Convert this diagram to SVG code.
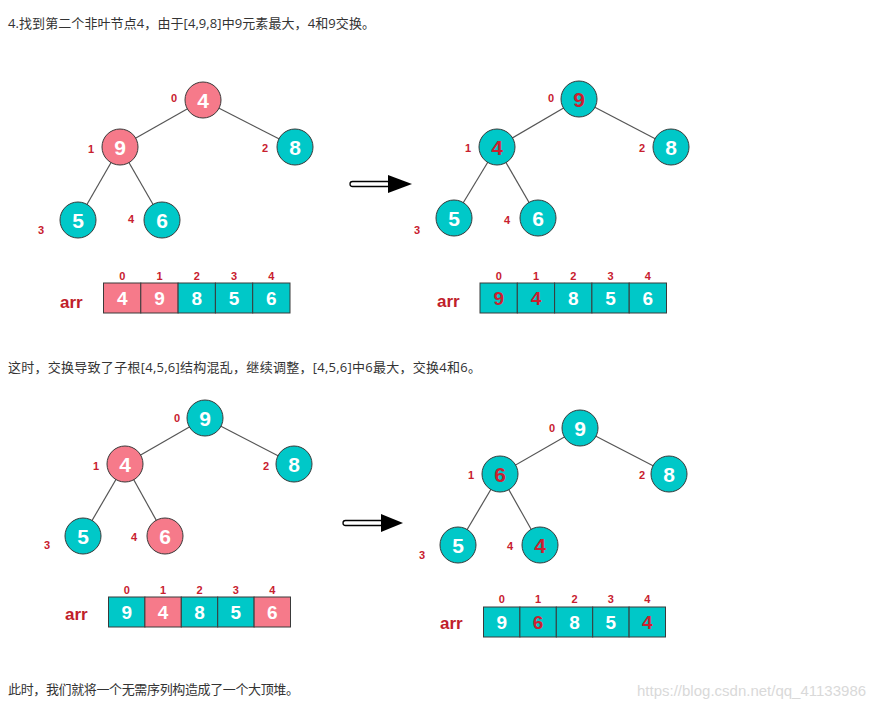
<svg xmlns="http://www.w3.org/2000/svg" width="889" height="709" viewBox="0 0 889 709">
<style>
.bg{fill:#ffffff}
.txt{font-family:"Open Sans","Noto Sans CJK SC",sans-serif;font-size:13px;fill:#333333}
.wm{font-family:"Liberation Sans",sans-serif;font-size:15px;fill:#d9d9d9}
.edge{stroke:#555555;stroke-width:1.2;fill:none}
.pink{fill:#f67a8a;stroke:#3a3a3a;stroke-width:1}
.teal{fill:#00c8c8;stroke:#3a3a3a;stroke-width:1}
.nv{font-family:"Liberation Sans",Arial,sans-serif;font-weight:bold;font-size:21px;text-anchor:middle;fill:#ffffff}
.cv{font-family:"Liberation Sans",Arial,sans-serif;font-weight:bold;font-size:19px;text-anchor:middle;fill:#ffffff}
.red{fill:#cc2030}
.idx{font-family:"Liberation Sans",Arial,sans-serif;font-weight:bold;font-size:11px;text-anchor:middle;fill:#c8202e}
.arr{font-family:"Liberation Sans",Arial,sans-serif;font-weight:bold;font-size:17px;fill:#c0202a}
.shaft{fill:#ffffff;stroke:#000000;stroke-width:1.3}
.head{fill:#000000}
</style>
<rect class="bg" x="0" y="0" width="889" height="709"/>

<text class="txt" x="8" y="27.5" textLength="367" lengthAdjust="spacing">4.找到第二个非叶节点4，由于[4,9,8]中9元素最大，4和9交换。</text>
<text class="txt" x="8" y="371.5" textLength="473" lengthAdjust="spacing">这时，交换导致了子根[4,5,6]结构混乱，继续调整，[4,5,6]中6最大，交换4和6。</text>
<text class="txt" x="8" y="694" textLength="291" lengthAdjust="spacing">此时，我们就将一个无需序列构造成了一个大顶堆。</text>
<text class="wm" x="637" y="696">https://blog.csdn.net/qq_41133986</text>

<g id="connectors">
  <line class="edge" x1="203" y1="100" x2="120" y2="147"/>
  <line class="edge" x1="203" y1="100" x2="295" y2="147"/>
  <line class="edge" x1="120" y1="147" x2="78" y2="220"/>
  <line class="edge" x1="120" y1="147" x2="162" y2="220"/>

  <line class="edge" x1="579" y1="99" x2="497" y2="147"/>
  <line class="edge" x1="579" y1="99" x2="671" y2="147"/>
  <line class="edge" x1="497" y1="147" x2="454" y2="218"/>
  <line class="edge" x1="497" y1="147" x2="538" y2="218"/>

  <line class="edge" x1="205" y1="418" x2="125" y2="464"/>
  <line class="edge" x1="205" y1="418" x2="294" y2="464"/>
  <line class="edge" x1="125" y1="464" x2="83" y2="536"/>
  <line class="edge" x1="125" y1="464" x2="165" y2="536"/>

  <line class="edge" x1="580" y1="428" x2="500" y2="474"/>
  <line class="edge" x1="580" y1="428" x2="669" y2="474"/>
  <line class="edge" x1="500" y1="474" x2="458" y2="545"/>
  <line class="edge" x1="500" y1="474" x2="540" y2="545"/>

  <g id="arrow1">
    <rect class="shaft" x="350" y="181.5" width="40" height="5" rx="2.5"/>
    <polygon class="head" points="388,175 412,184 388,193"/>
  </g>
  <g id="arrow2">
    <rect class="shaft" x="343" y="520.5" width="40" height="5" rx="2.5"/>
    <polygon class="head" points="381,514 403,523 381,532"/>
  </g>
</g>

<!-- Tree 1 -->
<g id="t1n0"><circle class="pink" cx="203" cy="100" r="18"/><text class="nv" x="203" y="107.5">4</text><text class="idx" x="174" y="102">0</text></g>
<g id="t1n1"><circle class="pink" cx="120" cy="147" r="18"/><text class="nv" x="120" y="154.5">9</text><text class="idx" x="91" y="153">1</text></g>
<g id="t1n2"><circle class="teal" cx="295" cy="147" r="18"/><text class="nv" x="295" y="154.5">8</text><text class="idx" x="265" y="152">2</text></g>
<g id="t1n3"><circle class="teal" cx="78" cy="220" r="18"/><text class="nv" x="78" y="227.5">5</text><text class="idx" x="41" y="234">3</text></g>
<g id="t1n4"><circle class="teal" cx="162" cy="220" r="18"/><text class="nv" x="162" y="227.5">6</text><text class="idx" x="131" y="223">4</text></g>

<!-- Tree 2 -->
<g id="t2n0"><circle class="teal" cx="579" cy="99" r="18"/><text class="nv red" x="579" y="106.5">9</text><text class="idx" x="551" y="102">0</text></g>
<g id="t2n1"><circle class="teal" cx="497" cy="147" r="18"/><text class="nv red" x="497" y="154.5">4</text><text class="idx" x="468" y="152">1</text></g>
<g id="t2n2"><circle class="teal" cx="671" cy="147" r="18"/><text class="nv" x="671" y="154.5">8</text><text class="idx" x="642" y="152">2</text></g>
<g id="t2n3"><circle class="teal" cx="454" cy="218" r="18"/><text class="nv" x="454" y="225.5">5</text><text class="idx" x="417" y="234">3</text></g>
<g id="t2n4"><circle class="teal" cx="538" cy="218" r="18"/><text class="nv" x="538" y="225.5">6</text><text class="idx" x="507" y="224">4</text></g>

<!-- Tree 3 -->
<g id="t3n0"><circle class="teal" cx="205" cy="418" r="18"/><text class="nv" x="205" y="425.5">9</text><text class="idx" x="177" y="422">0</text></g>
<g id="t3n1"><circle class="pink" cx="125" cy="464" r="18"/><text class="nv" x="125" y="471.5">4</text><text class="idx" x="96" y="470">1</text></g>
<g id="t3n2"><circle class="teal" cx="294" cy="464" r="18"/><text class="nv" x="294" y="471.5">8</text><text class="idx" x="266" y="470">2</text></g>
<g id="t3n3"><circle class="teal" cx="83" cy="536" r="18"/><text class="nv" x="83" y="543.5">5</text><text class="idx" x="47" y="549">3</text></g>
<g id="t3n4"><circle class="pink" cx="165" cy="536" r="18"/><text class="nv" x="165" y="543.5">6</text><text class="idx" x="134" y="541">4</text></g>

<!-- Tree 4 -->
<g id="t4n0"><circle class="teal" cx="580" cy="428" r="18"/><text class="nv" x="580" y="435.5">9</text><text class="idx" x="552" y="432">0</text></g>
<g id="t4n1"><circle class="teal" cx="500" cy="474" r="18"/><text class="nv red" x="500" y="481.5">6</text><text class="idx" x="471" y="479">1</text></g>
<g id="t4n2"><circle class="teal" cx="669" cy="474" r="18"/><text class="nv" x="669" y="481.5">8</text><text class="idx" x="642" y="479">2</text></g>
<g id="t4n3"><circle class="teal" cx="458" cy="545" r="18"/><text class="nv" x="458" y="552.5">5</text><text class="idx" x="422" y="559">3</text></g>
<g id="t4n4"><circle class="teal" cx="540" cy="545" r="18"/><text class="nv red" x="540" y="552.5">4</text><text class="idx" x="510" y="550">4</text></g>

<!-- Array 1 -->
<g id="arr1">
  <text class="arr" x="60" y="308">arr</text>
  <rect class="pink" x="103.5" y="283" width="37.3" height="30"/>
  <rect class="pink" x="140.8" y="283" width="37.3" height="30"/>
  <rect class="teal" x="178.1" y="283" width="37.3" height="30"/>
  <rect class="teal" x="215.4" y="283" width="37.3" height="30"/>
  <rect class="teal" x="252.7" y="283" width="37.3" height="30"/>
  <text class="cv" x="122.2" y="305">4</text>
  <text class="cv" x="159.5" y="305">9</text>
  <text class="cv" x="196.8" y="305">8</text>
  <text class="cv" x="234.1" y="305">5</text>
  <text class="cv" x="271.4" y="305">6</text>
  <text class="idx" x="122.2" y="280">0</text>
  <text class="idx" x="159.5" y="280">1</text>
  <text class="idx" x="196.8" y="280">2</text>
  <text class="idx" x="234.1" y="280">3</text>
  <text class="idx" x="271.4" y="280">4</text>
</g>

<!-- Array 2 -->
<g id="arr2">
  <text class="arr" x="437" y="307">arr</text>
  <rect class="teal" x="480" y="283" width="37.3" height="30"/>
  <rect class="teal" x="517.3" y="283" width="37.3" height="30"/>
  <rect class="teal" x="554.6" y="283" width="37.3" height="30"/>
  <rect class="teal" x="591.9" y="283" width="37.3" height="30"/>
  <rect class="teal" x="629.2" y="283" width="37.3" height="30"/>
  <text class="cv red" x="498.7" y="305">9</text>
  <text class="cv red" x="536" y="305">4</text>
  <text class="cv" x="573.3" y="305">8</text>
  <text class="cv" x="610.6" y="305">5</text>
  <text class="cv" x="647.9" y="305">6</text>
  <text class="idx" x="498.7" y="280">0</text>
  <text class="idx" x="536" y="280">1</text>
  <text class="idx" x="573.3" y="280">2</text>
  <text class="idx" x="610.6" y="280">3</text>
  <text class="idx" x="647.9" y="280">4</text>
</g>

<!-- Array 3 -->
<g id="arr3">
  <text class="arr" x="65" y="620">arr</text>
  <rect class="teal" x="108.5" y="597" width="36.4" height="30"/>
  <rect class="pink" x="144.9" y="597" width="36.4" height="30"/>
  <rect class="teal" x="181.3" y="597" width="36.4" height="30"/>
  <rect class="teal" x="217.7" y="597" width="36.4" height="30"/>
  <rect class="pink" x="254.1" y="597" width="36.4" height="30"/>
  <text class="cv" x="126.7" y="619">9</text>
  <text class="cv" x="163.1" y="619">4</text>
  <text class="cv" x="199.5" y="619">8</text>
  <text class="cv" x="235.9" y="619">5</text>
  <text class="cv" x="272.3" y="619">6</text>
  <text class="idx" x="126.7" y="594">0</text>
  <text class="idx" x="163.1" y="594">1</text>
  <text class="idx" x="199.5" y="594">2</text>
  <text class="idx" x="235.9" y="594">3</text>
  <text class="idx" x="272.3" y="594">4</text>
</g>

<!-- Array 4 -->
<g id="arr4">
  <text class="arr" x="440" y="629">arr</text>
  <rect class="teal" x="483.5" y="607" width="36.4" height="30"/>
  <rect class="teal" x="519.9" y="607" width="36.4" height="30"/>
  <rect class="teal" x="556.3" y="607" width="36.4" height="30"/>
  <rect class="teal" x="592.7" y="607" width="36.4" height="30"/>
  <rect class="teal" x="629.1" y="607" width="36.4" height="30"/>
  <text class="cv" x="501.7" y="629">9</text>
  <text class="cv red" x="538.1" y="629">6</text>
  <text class="cv" x="574.5" y="629">8</text>
  <text class="cv" x="610.9" y="629">5</text>
  <text class="cv red" x="647.3" y="629">4</text>
  <text class="idx" x="501.7" y="603">0</text>
  <text class="idx" x="538.1" y="603">1</text>
  <text class="idx" x="574.5" y="603">2</text>
  <text class="idx" x="610.9" y="603">3</text>
  <text class="idx" x="647.3" y="603">4</text>
</g>
</svg>
